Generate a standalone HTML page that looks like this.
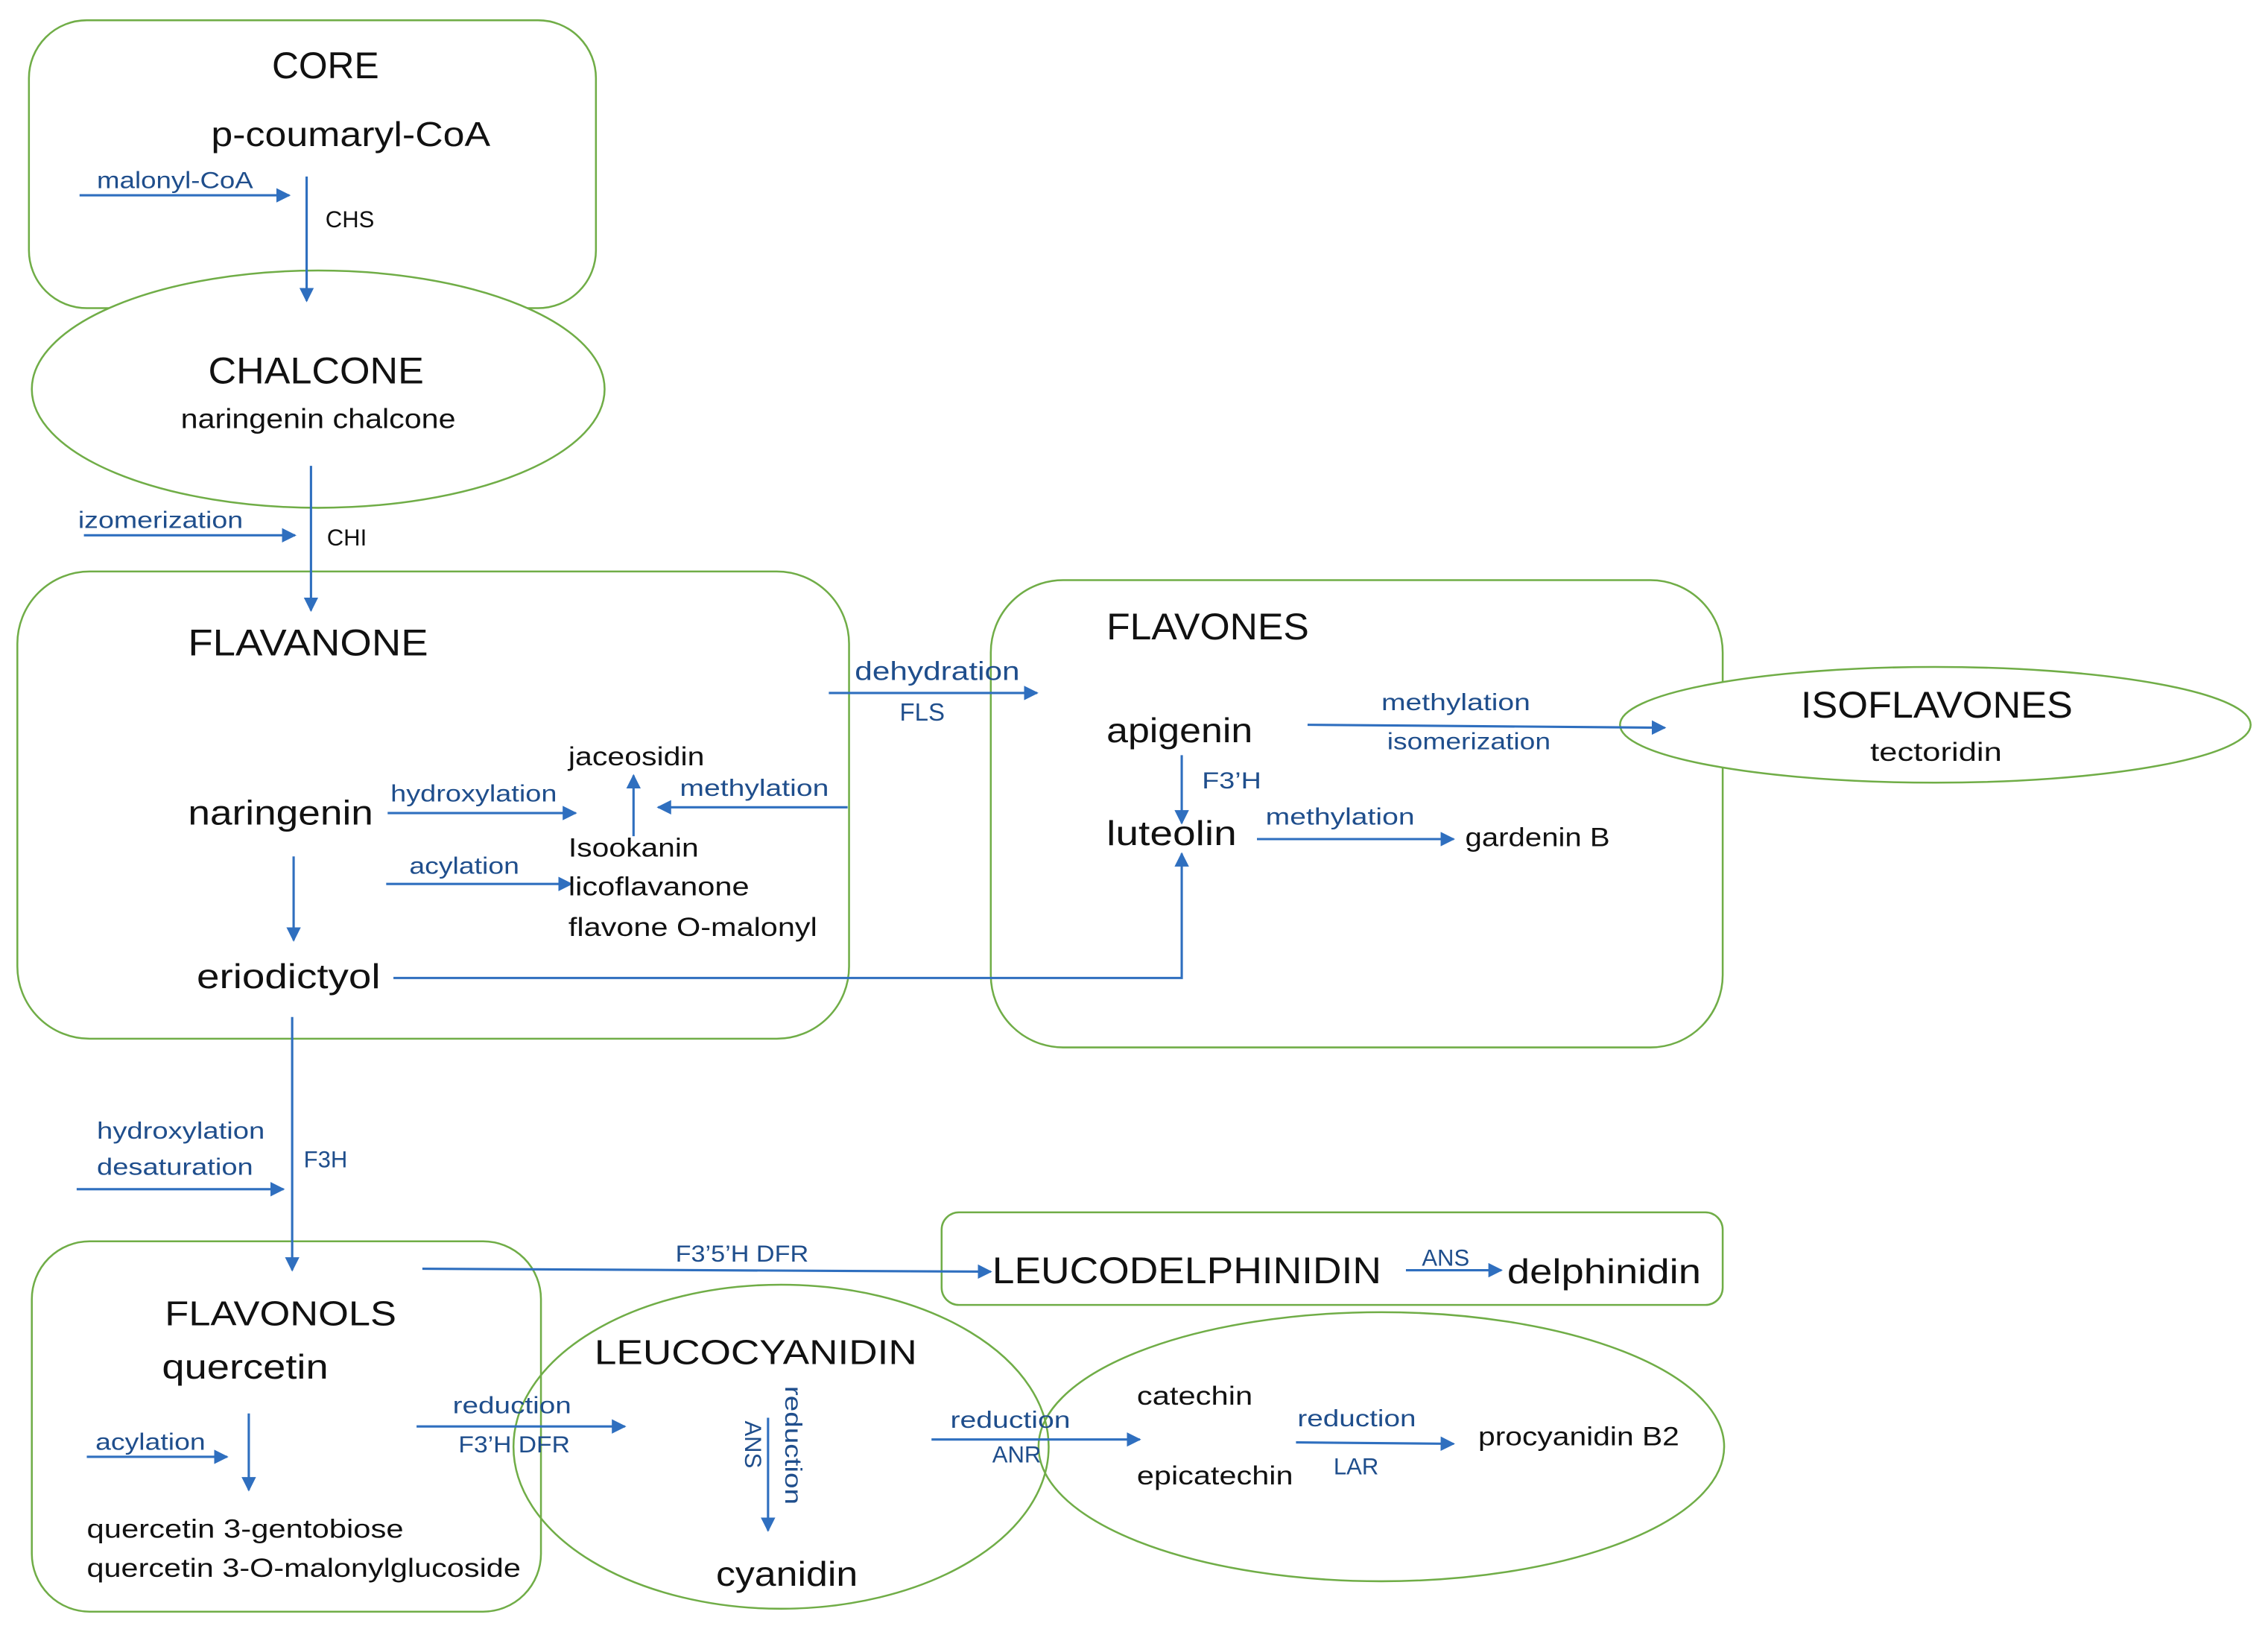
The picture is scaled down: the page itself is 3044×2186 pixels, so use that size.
<!DOCTYPE html>
<html><head><meta charset="utf-8"><style>html,body{margin:0;padding:0;background:#fff}svg{display:block}</style></head>
<body>
<svg width="3044" height="2186" viewBox="0 0 1568 1126" preserveAspectRatio="none" xmlns="http://www.w3.org/2000/svg" font-family="Liberation Sans, sans-serif">
<defs><marker id="a" markerWidth="10" markerHeight="10" refX="9" refY="5" orient="auto" markerUnits="userSpaceOnUse"><path d="M0,0 L10,5 L0,10 z" fill="#2f6fbf"/></marker></defs>
<g fill="none" stroke="#70ad47" stroke-width="1.3">
<rect x="20" y="14" width="392" height="199" rx="40"/>
<ellipse cx="220" cy="269" rx="198" ry="82" fill="#fff"/>
<rect x="12" y="395" width="575" height="323" rx="50"/>
<rect x="685" y="401" width="506" height="323" rx="50"/>
<ellipse cx="1338" cy="501" rx="218" ry="40" fill="#fff"/>
<rect x="651" y="838" width="540" height="64" rx="12"/>
<rect x="22" y="858" width="352" height="256" rx="40"/>
<ellipse cx="540" cy="1000" rx="185" ry="112"/>
<ellipse cx="955" cy="1000" rx="237" ry="93"/>
</g>
<g stroke="#2f6fbf" stroke-width="1.6" fill="none" marker-end="url(#a)">
<line x1="55" y1="135" x2="200" y2="135"/>
<line x1="212" y1="122" x2="212" y2="208"/>
<line x1="215" y1="322" x2="215" y2="422"/>
<line x1="58" y1="370" x2="204" y2="370"/>
<line x1="573" y1="479" x2="717" y2="479"/>
<line x1="268" y1="562" x2="398" y2="562"/>
<line x1="438" y1="578" x2="438" y2="536"/>
<line x1="586" y1="558" x2="455" y2="558"/>
<line x1="267" y1="611" x2="395" y2="611"/>
<line x1="203" y1="592" x2="203" y2="650"/>
<polyline points="272,676 817,676 817,590"/>
<line x1="817" y1="522" x2="817" y2="569"/>
<line x1="869" y1="580" x2="1005" y2="580"/>
<line x1="904" y1="501" x2="1151" y2="503"/>
<line x1="202" y1="703" x2="202" y2="878"/>
<line x1="53" y1="822" x2="196" y2="822"/>
<line x1="292" y1="877" x2="685" y2="879"/>
<line x1="972" y1="878" x2="1038" y2="878"/>
<line x1="60" y1="1007" x2="157" y2="1007"/>
<line x1="172" y1="977" x2="172" y2="1030"/>
<line x1="288" y1="986" x2="432" y2="986"/>
<line x1="531" y1="980" x2="531" y2="1058"/>
<line x1="644" y1="995" x2="788" y2="995"/>
<line x1="896" y1="997" x2="1005" y2="998"/>
</g>
<g fill="#111" font-size="24" lengthAdjust="spacingAndGlyphs">
<text x="188" y="54" font-size="26" textLength="74" lengthAdjust="spacingAndGlyphs">CORE</text>
<text x="146" y="101" textLength="193" lengthAdjust="spacingAndGlyphs">p-coumaryl-CoA</text>
<text x="144" y="265" font-size="26" textLength="149" lengthAdjust="spacingAndGlyphs">CHALCONE</text>
<text x="125" y="296" font-size="19" textLength="190" lengthAdjust="spacingAndGlyphs">naringenin chalcone</text>
<text x="130" y="453" font-size="26" textLength="166" lengthAdjust="spacingAndGlyphs">FLAVANONE</text>
<text x="130" y="570" textLength="128" lengthAdjust="spacingAndGlyphs">naringenin</text>
<text x="393" y="529" font-size="18" textLength="94" lengthAdjust="spacingAndGlyphs">jaceosidin</text>
<text x="393" y="592" font-size="18" textLength="90" lengthAdjust="spacingAndGlyphs">Isookanin</text>
<text x="393" y="619" font-size="18" textLength="125" lengthAdjust="spacingAndGlyphs">licoflavanone</text>
<text x="393" y="647" font-size="18" textLength="172" lengthAdjust="spacingAndGlyphs">flavone O-malonyl</text>
<text x="136" y="683" textLength="127" lengthAdjust="spacingAndGlyphs">eriodictyol</text>
<text x="765" y="442" font-size="26" textLength="140" lengthAdjust="spacingAndGlyphs">FLAVONES</text>
<text x="765" y="513" textLength="101" lengthAdjust="spacingAndGlyphs">apigenin</text>
<text x="765" y="584" textLength="90" lengthAdjust="spacingAndGlyphs">luteolin</text>
<text x="1013" y="585" font-size="18" textLength="100" lengthAdjust="spacingAndGlyphs">gardenin B</text>
<text x="1245" y="496" font-size="26" textLength="188" lengthAdjust="spacingAndGlyphs">ISOFLAVONES</text>
<text x="1293" y="526" font-size="18" textLength="91" lengthAdjust="spacingAndGlyphs">tectoridin</text>
<text x="686" y="887" font-size="26" textLength="269" lengthAdjust="spacingAndGlyphs">LEUCODELPHINIDIN</text>
<text x="1042" y="887" textLength="134" lengthAdjust="spacingAndGlyphs">delphinidin</text>
<text x="114" y="916" textLength="160" lengthAdjust="spacingAndGlyphs">FLAVONOLS</text>
<text x="112" y="953" textLength="115" lengthAdjust="spacingAndGlyphs">quercetin</text>
<text x="60" y="1063" font-size="18" textLength="219" lengthAdjust="spacingAndGlyphs">quercetin 3-gentobiose</text>
<text x="60" y="1090" font-size="18" textLength="300" lengthAdjust="spacingAndGlyphs">quercetin 3-O-malonylglucoside</text>
<text x="411" y="943" textLength="223" lengthAdjust="spacingAndGlyphs">LEUCOCYANIDIN</text>
<text x="495" y="1096" textLength="98" lengthAdjust="spacingAndGlyphs">cyanidin</text>
<text x="786" y="971" font-size="18" textLength="80" lengthAdjust="spacingAndGlyphs">catechin</text>
<text x="786" y="1026" font-size="18" textLength="108" lengthAdjust="spacingAndGlyphs">epicatechin</text>
<text x="1022" y="999" font-size="18" textLength="139" lengthAdjust="spacingAndGlyphs">procyanidin B2</text>
</g>
<g fill="#1f4e8c" font-size="16">
<text x="67" y="130" textLength="108" lengthAdjust="spacingAndGlyphs">malonyl-CoA</text>
<text x="225" y="157" fill="#111">CHS</text>
<text x="54" y="365" textLength="114" lengthAdjust="spacingAndGlyphs">izomerization</text>
<text x="226" y="377" fill="#111">CHI</text>
<text x="591" y="470" font-size="18" textLength="114" lengthAdjust="spacingAndGlyphs">dehydration</text>
<text x="622" y="498" font-size="17">FLS</text>
<text x="270" y="554" textLength="115" lengthAdjust="spacingAndGlyphs">hydroxylation</text>
<text x="470" y="550" textLength="103" lengthAdjust="spacingAndGlyphs">methylation</text>
<text x="283" y="604" textLength="76" lengthAdjust="spacingAndGlyphs">acylation</text>
<text x="831" y="545" textLength="41" lengthAdjust="spacingAndGlyphs">F3’H</text>
<text x="875" y="570" textLength="103" lengthAdjust="spacingAndGlyphs">methylation</text>
<text x="955" y="491" textLength="103" lengthAdjust="spacingAndGlyphs">methylation</text>
<text x="959" y="518" textLength="113" lengthAdjust="spacingAndGlyphs">isomerization</text>
<text x="67" y="787" textLength="116" lengthAdjust="spacingAndGlyphs">hydroxylation</text>
<text x="67" y="812" textLength="108" lengthAdjust="spacingAndGlyphs">desaturation</text>
<text x="210" y="807">F3H</text>
<text x="467" y="872" textLength="92" lengthAdjust="spacingAndGlyphs">F3’5’H DFR</text>
<text x="983" y="875">ANS</text>
<text x="66" y="1002" textLength="76" lengthAdjust="spacingAndGlyphs">acylation</text>
<text x="313" y="977" textLength="82" lengthAdjust="spacingAndGlyphs">reduction</text>
<text x="317" y="1004" textLength="77" lengthAdjust="spacingAndGlyphs">F3’H DFR</text>
<text transform="translate(543,958) rotate(90)" textLength="82" lengthAdjust="spacingAndGlyphs">reduction</text>
<text transform="translate(515,982) rotate(90)">ANS</text>
<text x="657" y="987" textLength="83" lengthAdjust="spacingAndGlyphs">reduction</text>
<text x="686" y="1011">ANR</text>
<text x="897" y="986" textLength="82" lengthAdjust="spacingAndGlyphs">reduction</text>
<text x="922" y="1019">LAR</text>
</g>
</svg>
</body></html>
